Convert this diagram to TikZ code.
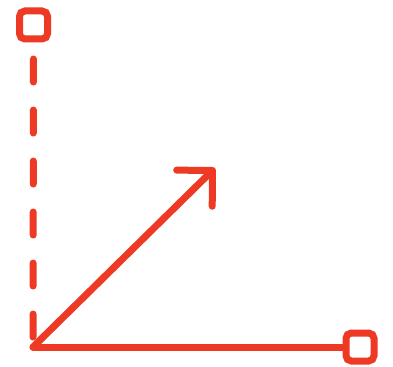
\documentclass[tikz,border=0pt]{standalone}
\usetikzlibrary{arrows.meta}
\definecolor{axisred}{HTML}{EE3A25}
\begin{document}
\begin{tikzpicture}[
  x=0.75pt, y=-0.75pt,
  handle/.style={rectangle, draw=axisred, line width=5.25pt, rounded corners=4pt, minimum size=21pt, inner sep=0pt},
  axis/.style={draw=axisred, line width=5.25pt, line cap=round},
  guide/.style={axis, dash pattern=on 17.25pt off 21pt, shorten <=12.4pt},
  arr/.style={axis, -{Straight Barb[length=19pt, width=38pt, line cap=round, line join=round]}},
]
  \useasboundingbox (0,0) rectangle (393,367);
  \coordinate (origin) at (33,347);
  \coordinate (tip) at (215,168);
  \node[handle] (top) at (33.5,25) {};
  \node[handle] (right) at (360,347) {};

  \draw[guide] (top.south) -- (origin);
  \draw[axis] (origin) -- (right.west);
  \draw[arr] (origin) -- (tip);
\end{tikzpicture}
\end{document}
